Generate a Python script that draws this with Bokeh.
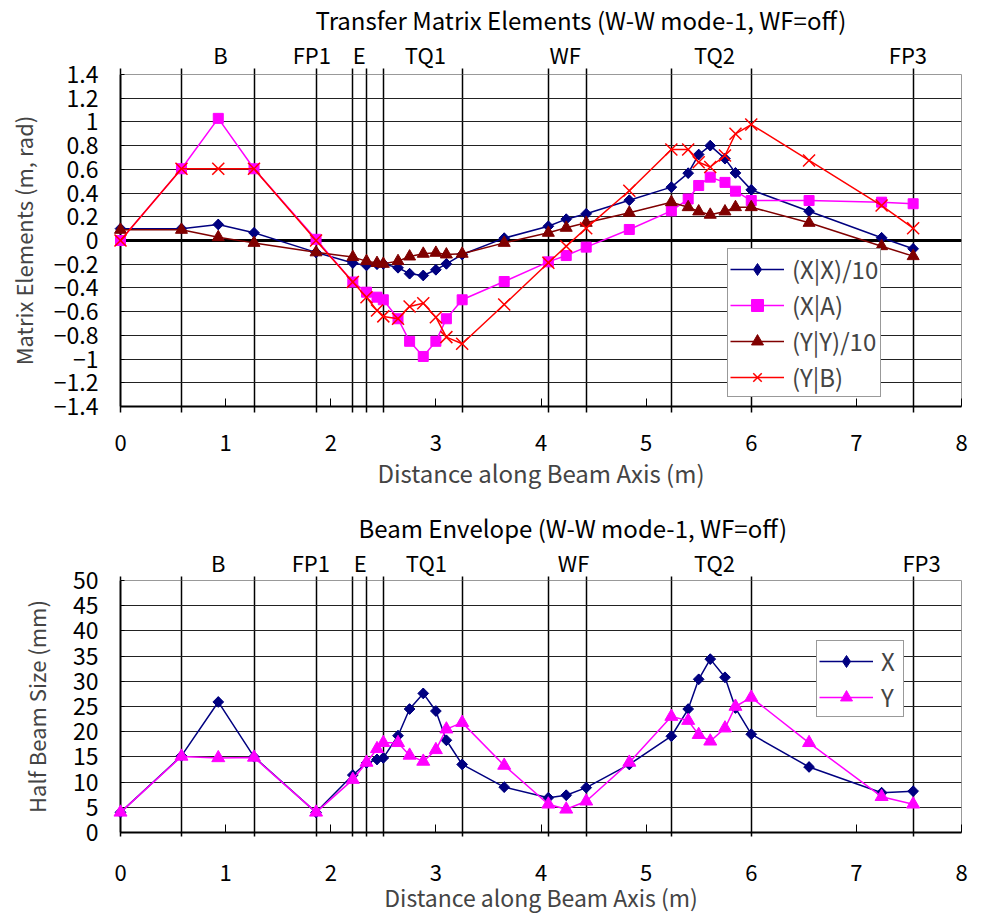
from bokeh.plotting import figure
from bokeh.models import (FixedTicker, LinearAxis, Range1d, Span, Legend, LegendItem,
                          CustomJSTickFormatter)
from bokeh.layouts import column
from bokeh.embed import file_html
from bokeh.resources import INLINE

FONT = "Noto Sans CJK JP"

# ---------------- data ----------------
# positions along the beam axis (m)
s = [0, 0.58, 0.93, 1.27, 1.86, 2.21, 2.34, 2.44, 2.50, 2.64, 2.75, 2.88, 3.00, 3.10, 3.25,
     3.65, 4.07, 4.24, 4.43, 4.84, 5.24, 5.40, 5.50, 5.61, 5.75, 5.85, 6.00, 6.55, 7.24, 7.54]

# transfer matrix elements
xx_10 = [0.10, 0.10, 0.135, 0.065, -0.10, -0.19, -0.21, -0.20, -0.197, -0.23, -0.28, -0.295,
         -0.247, -0.197, -0.118, 0.02, 0.12, 0.18, 0.225, 0.34, 0.45, 0.568, 0.725, 0.80, 0.69,
         0.57, 0.427, 0.247, 0.023, -0.07]
x_a = [0.0, 0.605, 1.03, 0.605, 0.01, -0.35, -0.436, -0.478, -0.50, -0.66, -0.85, -0.978,
       -0.85, -0.66, -0.50, -0.346, -0.18, -0.127, -0.056, 0.093, 0.25, 0.35, 0.464, 0.534,
       0.49, 0.416, 0.337, 0.337, 0.323, 0.31]
yy_10 = [0.09, 0.09, 0.028, -0.02, -0.10, -0.14, -0.174, -0.19, -0.197, -0.174, -0.135,
         -0.112, -0.104, -0.118, -0.112, -0.02, 0.065, 0.107, 0.149, 0.234, 0.323, 0.281, 0.245,
         0.217, 0.245, 0.281, 0.281, 0.149, -0.048, -0.132]
y_b = [0.0, 0.605, 0.605, 0.605, 0.0, -0.35, -0.478, -0.59, -0.64, -0.66, -0.557, -0.529,
       -0.647, -0.815, -0.871, -0.54, -0.188, -0.048, 0.104, 0.42, 0.767, 0.767, 0.66, 0.62,
       0.717, 0.90, 0.978, 0.675, 0.295, 0.104]

# beam envelope (mm)
env_x = [4.0, 15.2, 25.9, 15.0, 4.0, 11.4, 13.8, 14.5, 14.8, 19.2, 24.5, 27.6, 24.1, 18.3, 13.5,
         9.0, 6.9, 7.4, 8.9, 13.5, 19.1, 24.5, 30.4, 34.4, 30.8, 24.7, 19.5, 13.0, 7.9, 8.2]
env_y = [4.0, 15.1, 14.8, 14.9, 4.0, 10.5, 13.9, 16.6, 17.8, 17.8, 15.3, 14.1, 16.4, 20.5, 21.8,
         13.3, 5.6, 4.6, 6.2, 13.9, 23.0, 22.2, 19.4, 18.1, 20.7, 25.0, 26.8, 17.8, 7.1, 5.6]

# beam-line element boundaries and names
elements = [0, 0.58, 1.27, 1.86, 2.21, 2.34, 2.50, 3.25, 4.07, 4.43, 5.24, 6.00, 7.54]
elem_names = ["B", "FP1", "E", "TQ1", "WF", "TQ2", "FP3"]
elem_pos_top = [0.95, 1.82, 2.27, 2.90, 4.23, 5.65, 7.49]
elem_pos_bot = [0.93, 1.81, 2.28, 2.91, 4.31, 5.65, 7.62]

x_ticks = [0, 1, 2, 3, 4, 5, 6, 7, 8]
y_ticks_top = [-1.4, -1.2, -1, -0.8, -0.6, -0.4, -0.2, 0, 0.2, 0.4, 0.6, 0.8, 1, 1.2, 1.4]
y_labels_top = ["\u22121.4", "\u22121.2", "\u22121", "\u22120.8", "\u22120.6", "\u22120.4",
                "\u22120.2", "0", "0.2", "0.4", "0.6", "0.8", "1", "1.2", "1.4"]
y_ticks_bot = [0, 5, 10, 15, 20, 25, 30, 35, 40, 45, 50]

NAVY = "#000080"
MAGENTA = "#FF00FF"
DARKRED = "#800000"
RED = "#FF0000"

EMPTY = CustomJSTickFormatter(code="return ''")


def build(height, left, right, top, bottom, yr, yticks, ylabels, ylab, ylab_standoff,
          title, title_off, ext, lab_pos, tick_standoff, lab_standoff, xlab_size,
          xlab_standoff):
    p = figure(width=981, height=height, x_range=Range1d(0, 8), y_range=Range1d(*yr),
               output_backend="svg", toolbar_location=None, x_axis_location=None,
               min_border_left=left, min_border_right=right, min_border_top=top,
               min_border_bottom=bottom, background_fill_color="white",
               border_fill_color="white", outline_line_color="#999999")
    p.title.text = title
    p.title.align = "left"
    p.title.offset = title_off
    p.title.standoff = -4
    p.title.text_font = FONT
    p.title.text_font_size = "24px"
    p.title.text_font_style = "normal"
    p.title.text_color = "black"

    ya = p.yaxis[0]
    ya.ticker = FixedTicker(ticks=yticks)
    ya.major_label_overrides = {t: l for t, l in zip(yticks, ylabels)}
    ya.major_tick_in = 4
    ya.major_tick_out = 0
    ya.minor_tick_line_color = None
    ya.axis_line_width = 2
    ya.axis_line_color = "black"
    ya.major_label_standoff = 22
    ya.major_label_text_font = FONT
    ya.major_label_text_font_size = "23px"
    ya.major_label_text_color = "black"
    ya.axis_label = ylab
    ya.axis_label_text_font = FONT
    ya.axis_label_text_font_size = "22px"
    ya.axis_label_text_font_style = "normal"
    ya.axis_label_standoff = ylab_standoff

    p.ygrid.ticker = FixedTicker(ticks=yticks)
    p.ygrid.grid_line_color = "#222222"
    p.ygrid.grid_line_width = 1
    p.xgrid.ticker = FixedTicker(ticks=elements)
    p.xgrid.grid_line_color = "black"
    p.xgrid.grid_line_width = 1.5

    # bottom: element line extensions + inner integer ticks
    b1 = LinearAxis(ticker=FixedTicker(ticks=elements, minor_ticks=x_ticks),
                    formatter=EMPTY, major_tick_out=ext, major_tick_in=0,
                    major_tick_line_width=1.5, major_tick_line_color="black",
                    minor_tick_in=8, minor_tick_out=0, minor_tick_line_color="black",
                    minor_tick_line_width=1, axis_line_color="black", axis_line_width=2,
                    major_label_standoff=0)
    p.add_layout(b1, "below")
    b2 = LinearAxis(ticker=FixedTicker(ticks=x_ticks), major_tick_out=0, major_tick_in=0,
                    minor_tick_line_color=None, axis_line_color=None,
                    major_label_standoff=tick_standoff, major_label_text_font=FONT,
                    major_label_text_font_size="22px", major_label_text_color="black",
                    axis_label="Distance along Beam Axis (m)", axis_label_text_font=FONT,
                    axis_label_text_font_size=xlab_size, axis_label_text_font_style="normal",
                    axis_label_standoff=xlab_standoff)
    p.add_layout(b2, "below")

    # top: element line extensions + element names
    a1 = LinearAxis(ticker=FixedTicker(ticks=elements), formatter=EMPTY,
                    major_tick_out=ext, major_tick_in=0, major_tick_line_width=1.5,
                    major_tick_line_color="black", minor_tick_line_color=None,
                    axis_line_color=None, major_label_standoff=0)
    p.add_layout(a1, "above")
    a2 = LinearAxis(ticker=FixedTicker(ticks=lab_pos),
                    major_label_overrides={t: n for t, n in zip(lab_pos, elem_names)},
                    major_tick_out=0, major_tick_in=0, minor_tick_line_color=None,
                    axis_line_color=None, major_label_standoff=lab_standoff,
                    major_label_text_font=FONT, major_label_text_font_size="22px",
                    major_label_text_color="black")
    p.add_layout(a2, "above")
    return p


def legend(items, loc):
    return Legend(items=items, location=loc, label_text_font=FONT,
                  label_text_font_size="24px", glyph_width=54, glyph_height=30,
                  label_height=30, label_standoff=8, padding=2, spacing=1, margin=0,
                  border_line_color="#333333", border_line_width=1,
                  background_fill_alpha=1.0)


# ---------------- top chart ----------------
p1 = build(495, 120, 6, 74, 89, (-1.4, 1.4), y_ticks_top, y_labels_top,
           "Matrix Elements (m, rad)", 12,
           "Transfer Matrix Elements (W-W mode-1, WF=off)", 195,
           6, elem_pos_top, 22, -1, "24px", 1)
p1.add_layout(Span(location=0, dimension="width", line_color="black", line_width=3,
                   level="underlay"))

r_xx_l = p1.line(s, xx_10, line_color=NAVY, line_width=1.5)
r_xx_d = p1.scatter(s, xx_10, marker="diamond", size=10, color=NAVY)
r_xx_m = p1.scatter(s, xx_10, marker="square", angle=0.7854, size=7.6, color=NAVY)
r_xa_l = p1.line(s, x_a, line_color=MAGENTA, line_width=1.5)
r_xa_m = p1.scatter(s, x_a, marker="square", size=10, color=MAGENTA)
r_yy_l = p1.line(s, yy_10, line_color=DARKRED, line_width=1.5)
r_yy_m = p1.scatter(s, yy_10, marker="triangle", size=12, color=DARKRED)
r_yb_l = p1.line(s, y_b, line_color=RED, line_width=1.5)
r_yb_m = p1.scatter(s, y_b, marker="x", size=17, line_color=RED, line_width=1.5)
for r in [r_xx_l, r_xx_d, r_xx_m, r_xa_l, r_xa_m, r_yy_l, r_yy_m, r_yb_l, r_yb_m]:
    r.level = "overlay"

p1.add_layout(legend([LegendItem(label="(X|X)/10", renderers=[r_xx_l, r_xx_d]),
                      LegendItem(label="(X|A)", renderers=[r_xa_l, r_xa_m]),
                      LegendItem(label="(Y|Y)/10", renderers=[r_yy_l, r_yy_m]),
                      LegendItem(label="(Y|B)", renderers=[r_yb_l, r_yb_m])], (607, 9)))

# ---------------- bottom chart ----------------
p2 = build(421, 113, 20, 85, 83, (0, 50), y_ticks_bot, [str(v) for v in y_ticks_bot],
           "Half Beam Size (mm)", 18,
           "Beam Envelope (W-W mode-1, WF=off)", 238,
           4, elem_pos_bot, 28, -1, "23px", -4)

r_ex_l = p2.line(s, env_x, line_color=NAVY, line_width=1.5)
r_ex_d = p2.scatter(s, env_x, marker="diamond", size=10, color=NAVY)
r_ex_m = p2.scatter(s, env_x, marker="square", angle=0.7854, size=7.6, color=NAVY)
r_ey_l = p2.line(s, env_y, line_color=MAGENTA, line_width=1.5)
r_ey_m = p2.scatter(s, env_y, marker="triangle", size=13, color=MAGENTA)
for r in [r_ex_l, r_ex_d, r_ex_m, r_ey_l, r_ey_m]:
    r.level = "overlay"

p2.add_layout(legend([LegendItem(label="X", renderers=[r_ex_l, r_ex_d]),
                      LegendItem(label="Y", renderers=[r_ey_l, r_ey_m])], (696, 115)))

layout = column(p1, p2, spacing=0)
open("out.html", "w").write(file_html(layout, INLINE))
